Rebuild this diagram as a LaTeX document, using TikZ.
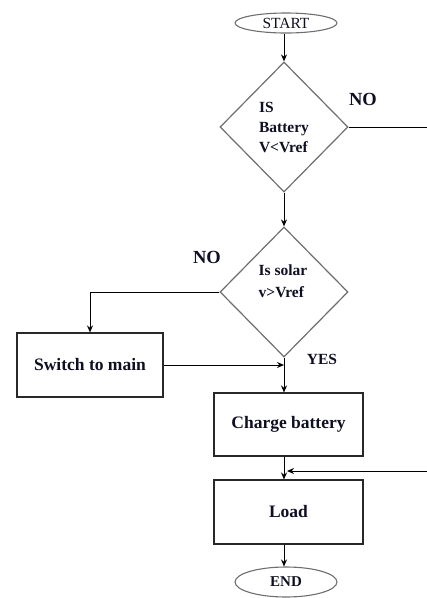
\documentclass[tikz,border=0pt]{standalone}
\usepackage{fontspec}
\setmainfont{Liberation Serif}
\usetikzlibrary{shapes.geometric,arrows.meta,positioning,calc}
\definecolor{edgegray}{RGB}{110,110,110}
\definecolor{boxblack}{RGB}{40,40,40}
\definecolor{inknavy}{RGB}{15,15,35}

\begin{document}
\begin{tikzpicture}[x=1pt,y=-1pt,
    terminal/.style={draw=edgegray,line width=1.1pt,ellipse,minimum width=102pt,inner sep=0pt,text=inknavy},
    decision/.style={draw=edgegray,line width=1.2pt,diamond,minimum width=128pt,minimum height=130pt,inner sep=0pt,align=left,text=inknavy,font=\fontsize{15.5}{20}\selectfont\bfseries},
    process/.style={draw=boxblack,line width=1.1pt,rectangle,minimum width=149pt,minimum height=63pt,text=inknavy,font=\fontsize{17.5}{20}\selectfont\bfseries},
    flow/.style={-{Stealth[length=7pt,width=6pt]},black,line width=1pt},
    tag/.style={text=inknavy,font=\fontsize{18.5}{20}\selectfont\bfseries}]
    \useasboundingbox (0,0) rectangle (427,598);
    % terminals
    \node[terminal,minimum height=20pt,font=\fontsize{15.5}{18}\selectfont] (start) at (286,23) {START};
    \node[terminal,minimum height=30pt,font=\fontsize{15}{18}\selectfont\bfseries] (finish) at (286,582) {END};
    % decisions
    \node[decision] (battery) at (284,127) {IS\\Battery\\V<Vref};
    \node[decision] (solar) at (284,292) {};
    \node[align=left,text=inknavy,font=\fontsize{15.5}{22}\selectfont\bfseries] (solartext) at (283,281) {Is solar\\v>Vref};
    % processes
    \node[process,minimum width=146pt,minimum height=64pt] (mains) at (90,365) {Switch to main};
    \node[process] (charge) at (288.5,424.5) {Charge battery};
    \node[process,minimum height=64pt] (load) at (288.5,512) {Load};
    % branch labels
    \node[tag] (nobattery) at (363,99) {NO};
    \node[tag] (nosolar) at (207,257) {NO};
    \node[tag,font=\fontsize{15.5}{18}\selectfont\bfseries] (yessolar) at (322,359) {YES};
    % connectors
    \coordinate (exitright) at (427,127);
    \coordinate (entryright) at (427,471);
    \coordinate (join1) at (solar.south |- mains.east);
    \coordinate (join2) at ($(solar.south |- entryright)+(3,0)$);
    \draw[flow] (start.south -| battery.north) -- (battery.north);
    \draw[line width=1pt] (battery.east) -- (exitright);
    \draw[flow] (battery.south) -- (solar.north);
    \draw[flow] (solar.west) -| (mains.north);
    \draw[flow] (solar.south) -- (solar.south |- charge.north);
    \draw[flow] (mains.east) -- (join1);
    \draw[flow] (charge.south -| solar.south) -- (load.north -| solar.south);
    \draw[flow] (entryright) -- (join2);
    \draw[flow] (load.south -| solar.south) -- (finish.north -| solar.south);
\end{tikzpicture}
\end{document}
